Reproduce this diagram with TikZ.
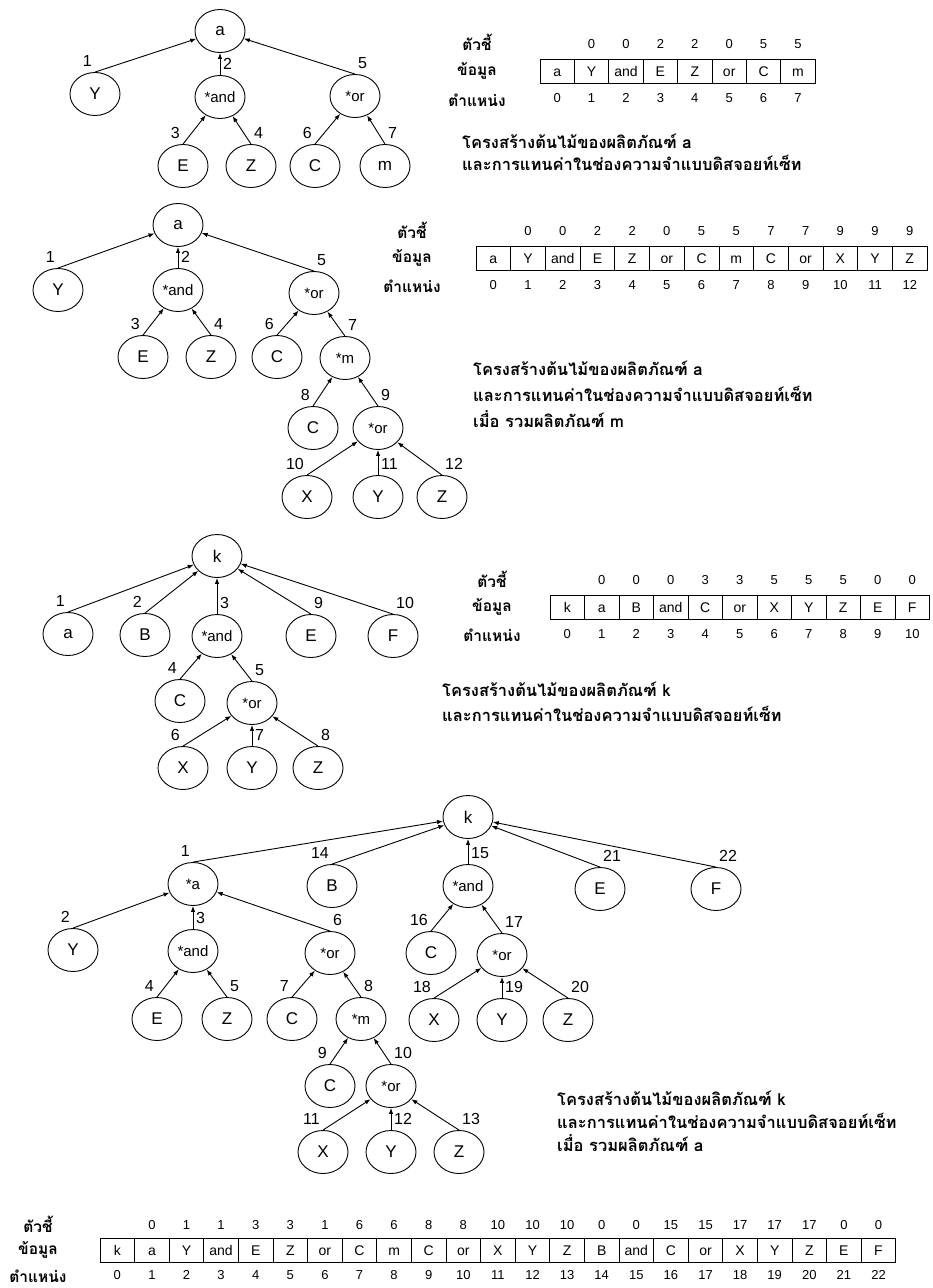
\documentclass[tikz,border=0pt]{standalone}
\usepackage{fontspec}
\setmainfont{Liberation Sans}
\newfontfamily\thai[Script=Thai]{Loma}
\usetikzlibrary{arrows,arrows.meta,positioning,shapes}

\begin{document}
\begin{tikzpicture}[x=1pt,y=-1pt,
  ele/.style={draw,ellipse,line width=0.9pt,minimum width=50pt,minimum height=43pt,inner sep=0pt,font=\fontsize{17}{17}\selectfont},
  op/.style={ele,font=\fontsize{15}{15}\selectfont},
  num/.style={inner sep=0pt,font=\fontsize{16}{16}\selectfont},
  L/.style={label={[num,anchor=south east,xshift=-3pt,label distance=5pt]90:#1}},
  R/.style={label={[num,anchor=south west,xshift=3pt,label distance=5pt]90:#1}},
  up/.style={->,>={Latex[length=6pt,width=4.5pt]},line width=0.9pt},
  cell/.style={draw,line width=0.8pt,minimum height=24pt,inner sep=0pt,text height=10pt,text depth=0pt,font=\fontsize{14}{14}\selectfont},
  idx/.style={inner sep=0pt,font=\fontsize{13}{13}\selectfont},
  rowname/.style={inner sep=0pt,font=\thai\bfseries\fontsize{15.5}{15.5}\selectfont},
  capline/.style={inner sep=0pt,anchor=base west,font=\thai\bfseries\fontsize{16.5}{16.5}\selectfont}]
  \useasboundingbox (0,0) rectangle (933,1288);

  % tree of product a
  \node[ele] (a1) at (220,31) {a};
  \node[ele,L=1] (y1) at (95,94) {Y};
  \node[op,R=2] (and1) at (220,97) {*and};
  \node[op,R=5] (or1) at (355,96) {*or};
  \node[ele,L=3] (e1) at (183,166) {E};
  \node[ele,R=4] (z1) at (251,166) {Z};
  \node[ele,L=6] (c1) at (315,166) {C};
  \node[ele,R=7] (m1) at (385,166) {m};
  \draw[up] (y1.north) -- (a1);
  \draw[up] (and1.north) -- (a1);
  \draw[up] (or1.north) -- (a1);
  \draw[up] (e1.north) -- (and1);
  \draw[up] (z1.north) -- (and1);
  \draw[up] (c1.north) -- (or1);
  \draw[up] (m1.north) -- (or1);

  \node[rowname] (ta) at (477,42) {ตัวชี้};
  \node[rowname] (da) at (477,71) {ข้อมูล};
  \node[rowname] (na) at (477,100) {ตำแหน่ง};
  \foreach \t [count=\i from 0] in {a,Y,and,E,Z,or,C,m}
    \node[cell,minimum width=34.4pt] (ca\i) at ({540+34.4*\i+17.2},71) {\t};
  \foreach \p [count=\i] in {0,0,2,2,0,5,5}
    \node[idx,above=10pt of ca\i] (pa\i) {\p};
  \foreach \i in {0,...,7}
    \node[idx,below=10pt of ca\i] (qa\i) {\i};
  \node[capline] (capa1) at (462,148) {โครงสร้างต้นไม้ของผลิตภัณฑ์ a};
  \node[capline] (capa2) at (462,170) {และการแทนค่าในช่องความจำแบบดิสจอยท์เซ็ท};

  % tree of product a with m
  \node[ele] (a2) at (178,225) {a};
  \node[ele,L=1] (y2) at (58,290) {Y};
  \node[op,R=2] (and2) at (178,290) {*and};
  \node[op,R=5] (or2) at (314,293) {*or};
  \node[ele,L=3] (e2) at (143,357) {E};
  \node[ele,R=4] (z2) at (211,357) {Z};
  \node[ele,L=6] (c2) at (277,357) {C};
  \node[op,R=7] (m2) at (345,358) {*m};
  \node[ele,L=8] (c2b) at (313,428) {C};
  \node[op,R=9] (or2b) at (378,428) {*or};
  \node[ele,L=10] (x2) at (307,497) {X};
  \node[ele,R=11] (y2b) at (378,497) {Y};
  \node[ele,R=12] (z2b) at (442,497) {Z};
  \draw[up] (y2.north) -- (a2);
  \draw[up] (and2.north) -- (a2);
  \draw[up] (or2.north) -- (a2);
  \draw[up] (e2.north) -- (and2);
  \draw[up] (z2.north) -- (and2);
  \draw[up] (c2.north) -- (or2);
  \draw[up] (m2.north) -- (or2);
  \draw[up] (c2b.north) -- (m2);
  \draw[up] (or2b.north) -- (m2);
  \draw[up] (x2.north) -- (or2b);
  \draw[up] (y2b.north) -- (or2b);
  \draw[up] (z2b.north) -- (or2b);

  \node[rowname] (tb) at (412,230) {ตัวชี้};
  \node[rowname] (db) at (412,258) {ข้อมูล};
  \node[rowname] (nb) at (412,286) {ตำแหน่ง};
  \foreach \t [count=\i from 0] in {a,Y,and,E,Z,or,C,m,C,or,X,Y,Z}
    \node[cell,minimum width=34.7pt] (cb\i) at ({476+34.7*\i+17.35},258) {\t};
  \foreach \p [count=\i] in {0,0,2,2,0,5,5,7,7,9,9,9}
    \node[idx,above=10pt of cb\i] (pb\i) {\p};
  \foreach \i in {0,...,12}
    \node[idx,below=10pt of cb\i] (qb\i) {\i};
  \node[capline] (capb1) at (473,375) {โครงสร้างต้นไม้ของผลิตภัณฑ์ a};
  \node[capline] (capb2) at (473,401) {และการแทนค่าในช่องความจำแบบดิสจอยท์เซ็ท};
  \node[capline] (capb3) at (473,427) {เมื่อ รวมผลิตภัณฑ์ m};

  % tree of product k
  \node[ele] (k3) at (217,556) {k};
  \node[ele,L=1] (a3) at (68,634) {a};
  \node[ele,L=2] (b3) at (145,635) {B};
  \node[op,R=3] (and3) at (217,636) {*and};
  \node[ele,R=9] (e3) at (311,636) {E};
  \node[ele,R=10] (f3) at (393,636) {F};
  \node[ele,L=4] (c3) at (180,701) {C};
  \node[op,R=5] (or3) at (252,703) {*or};
  \node[ele,L=6] (x3) at (183,768) {X};
  \node[ele,R=7] (y3) at (252,768) {Y};
  \node[ele,R=8] (z3) at (318,768) {Z};
  \draw[up] (a3.north) -- (k3);
  \draw[up] (b3.north) -- (k3);
  \draw[up] (and3.north) -- (k3);
  \draw[up] (e3.north) -- (k3);
  \draw[up] (f3.north) -- (k3);
  \draw[up] (c3.north) -- (and3);
  \draw[up] (or3.north) -- (and3);
  \draw[up] (x3.north) -- (or3);
  \draw[up] (y3.north) -- (or3);
  \draw[up] (z3.north) -- (or3);

  \node[rowname] (tc) at (492,579) {ตัวชี้};
  \node[rowname] (dc) at (492,607) {ข้อมูล};
  \node[rowname] (nc) at (492,635) {ตำแหน่ง};
  \foreach \t [count=\i from 0] in {k,a,B,and,C,or,X,Y,Z,E,F}
    \node[cell,minimum width=34.5pt] (cc\i) at ({550+34.5*\i+17.25},607) {\t};
  \foreach \p [count=\i] in {0,0,0,3,3,5,5,5,0,0}
    \node[idx,above=10pt of cc\i] (pc\i) {\p};
  \foreach \i in {0,...,10}
    \node[idx,below=10pt of cc\i] (qc\i) {\i};
  \node[capline] (capc1) at (442,696) {โครงสร้างต้นไม้ของผลิตภัณฑ์ k};
  \node[capline] (capc2) at (442,721) {และการแทนค่าในช่องความจำแบบดิสจอยท์เซ็ท};

  % tree of product k with a
  \node[ele] (k4) at (468,817) {k};
  \node[op,L=1] (a4) at (193,884) {*a};
  \node[ele,L=14] (b4) at (332,886) {B};
  \node[op,R=15] (and4) at (468,886) {*and};
  \node[ele,R=21] (e4) at (600,889) {E};
  \node[ele,R=22] (f4) at (716,889) {F};
  \node[ele,L=2] (y4) at (73,950) {Y};
  \node[op,R=3] (and4b) at (193,951) {*and};
  \node[op,R=6] (or4) at (330,953) {*or};
  \node[ele,L=16] (c4) at (431,953) {C};
  \node[op,R=17] (or4b) at (502,955) {*or};
  \node[ele,L=4] (e4b) at (157,1019) {E};
  \node[ele,R=5] (z4) at (227,1019) {Z};
  \node[ele,L=7] (c4b) at (292,1019) {C};
  \node[op,R=8] (m4) at (361,1019) {*m};
  \node[ele,L=18] (x4) at (434,1020) {X};
  \node[ele,R=19] (y4b) at (502,1020) {Y};
  \node[ele,R=20] (z4b) at (568,1020) {Z};
  \node[ele,L=9] (c4c) at (330,1086) {C};
  \node[op,R=10] (or4c) at (391,1086) {*or};
  \node[ele,L=11] (x4b) at (323,1152) {X};
  \node[ele,R=12] (y4c) at (391,1152) {Y};
  \node[ele,R=13] (z4c) at (459,1152) {Z};
  \draw[up] (a4.north) -- (k4);
  \draw[up] (b4.north) -- (k4);
  \draw[up] (and4.north) -- (k4);
  \draw[up] (e4.north) -- (k4);
  \draw[up] (f4.north) -- (k4);
  \draw[up] (y4.north) -- (a4);
  \draw[up] (and4b.north) -- (a4);
  \draw[up] (or4.north) -- (a4);
  \draw[up] (c4.north) -- (and4);
  \draw[up] (or4b.north) -- (and4);
  \draw[up] (e4b.north) -- (and4b);
  \draw[up] (z4.north) -- (and4b);
  \draw[up] (c4b.north) -- (or4);
  \draw[up] (m4.north) -- (or4);
  \draw[up] (x4.north) -- (or4b);
  \draw[up] (y4b.north) -- (or4b);
  \draw[up] (z4b.north) -- (or4b);
  \draw[up] (c4c.north) -- (m4);
  \draw[up] (or4c.north) -- (m4);
  \draw[up] (x4b.north) -- (or4c);
  \draw[up] (y4c.north) -- (or4c);
  \draw[up] (z4c.north) -- (or4c);

  \node[capline] (capd1) at (557,1105) {โครงสร้างต้นไม้ของผลิตภัณฑ์ k};
  \node[capline] (capd2) at (557,1128) {และการแทนค่าในช่องความจำแบบดิสจอยท์เซ็ท};
  \node[capline] (capd3) at (557,1151) {เมื่อ รวมผลิตภัณฑ์ a};

  \node[rowname] (td) at (38,1224) {ตัวชี้};
  \node[rowname] (dd) at (38,1250) {ข้อมูล};
  \node[rowname] (nd) at (38,1276) {ตำแหน่ง};
  \foreach \t [count=\i from 0] in {k,a,Y,and,E,Z,or,C,m,C,or,X,Y,Z,B,and,C,or,X,Y,Z,E,F}
    \node[cell,minimum width=34.6pt] (cd\i) at ({100+34.6*\i+17.3},1250) {\t};
  \foreach \p [count=\i] in {0,1,1,3,3,1,6,6,8,8,10,10,10,0,0,15,15,17,17,17,0,0}
    \node[idx,above=8pt of cd\i] (pd\i) {\p};
  \foreach \i in {0,...,22}
    \node[idx,below=8pt of cd\i] (qd\i) {\i};
\end{tikzpicture}
\end{document}
